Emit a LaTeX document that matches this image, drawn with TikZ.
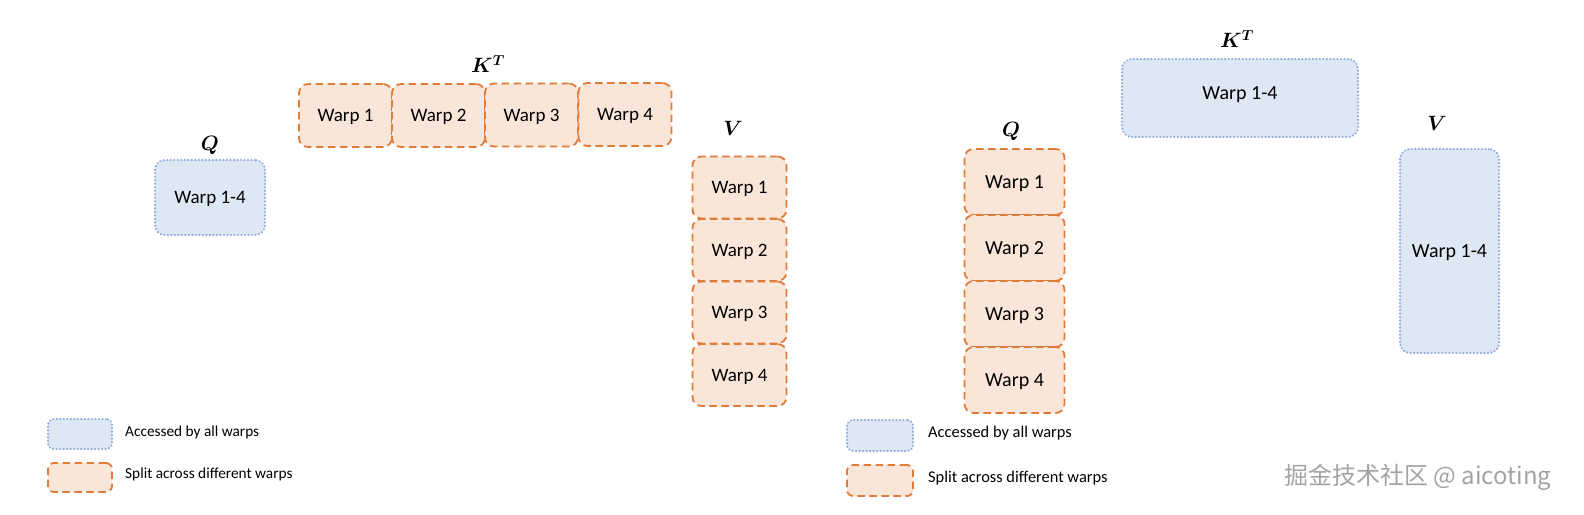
\documentclass[tikz,border=0pt]{standalone}
\usepackage{fontspec}
\usepackage{bm}
\setmainfont{Carlito}
\newfontfamily\cjkwm{Noto Sans CJK SC}
\definecolor{orline}{HTML}{E07B39}
\definecolor{orfill}{HTML}{FAE6D8}
\definecolor{blline}{HTML}{8FAADC}
\definecolor{blfill}{HTML}{DEE8F5}
\definecolor{wmgray}{HTML}{A3A3A3}
\begin{document}
\begin{tikzpicture}[x=1pt,y=-1pt,
  split/.style={draw=orline,fill=orfill,line width=1.8pt,dash pattern=on 7.5pt off 4.5pt,rounded corners=9pt,inner sep=0pt,text depth=0pt,font=\fontsize{19}{22}\selectfont},
  shared/.style={draw=blline,fill=blfill,line width=2.4pt,line cap=round,dash pattern=on 0.01pt off 3.5pt,rounded corners=10pt,inner sep=0pt,text depth=0pt,font=\fontsize{19}{22}\selectfont},
  mlabel/.style={inner sep=0pt,font=\fontsize{20}{24}\selectfont},
  legtext/.style={anchor=west,inner sep=0pt,font=\fontsize{15.3}{18}\selectfont},
  legtextb/.style={anchor=west,inner sep=0pt,font=\fontsize{16.4}{19}\selectfont}]
\useasboundingbox (0,0) rectangle (1584,514);

% ---------- left panel ----------
\node[mlabel] (lQlab) at (210,145) {$\bm{Q}$};
\node[shared,minimum width=110pt,minimum height=75pt] (lQ) at (210,197.5) {Warp 1-4};

\node[mlabel] (lKlab) at (488,64) {$\bm{K}^{\bm{T}}$};
\node[split,minimum width=93pt,minimum height=63pt] (lK1) at (345.5,115.5) {Warp 1};
\node[split,minimum width=93pt,minimum height=63pt] (lK2) at (438.5,115.5) {Warp 2};
\node[split,minimum width=93pt,minimum height=63pt] (lK3) at (531.5,115) {Warp 3};
\node[split,minimum width=93pt,minimum height=63pt] (lK4) at (625,114.5) {Warp 4};

\node[mlabel] (lVlab) at (733,128) {$\bm{V}$};
\node[split,minimum width=94pt,minimum height=62pt] (lV1) at (739.5,187.5) {Warp 1};
\node[split,minimum width=94pt,minimum height=62pt] (lV2) at (739.5,250) {Warp 2};
\node[split,minimum width=94pt,minimum height=62pt] (lV3) at (739.5,312.5) {Warp 3};
\node[split,minimum width=94pt,minimum height=62pt] (lV4) at (739.5,375) {Warp 4};

% legend left
\node[shared,minimum width=64pt,minimum height=30pt,rounded corners=6pt] (lL1) at (80,434) {};
\node[split,minimum width=64pt,minimum height=29pt,rounded corners=6pt] (lL2) at (80,477.5) {};
\node[legtext] (lT1) at (125,432) {Accessed by all warps};
\node[legtext] (lT2) at (125,474) {Split across different warps};

% ---------- right panel ----------
\node[mlabel] (rQlab) at (1011,131) {$\bm{Q}$};
\node[split,minimum width=100pt,minimum height=66pt,font=\fontsize{20}{24}\selectfont] (rQ1) at (1014.5,182) {Warp 1};
\node[split,minimum width=100pt,minimum height=66pt,font=\fontsize{20}{24}\selectfont] (rQ2) at (1014.5,248) {Warp 2};
\node[split,minimum width=100pt,minimum height=66pt,font=\fontsize{20}{24}\selectfont] (rQ3) at (1014.5,314) {Warp 3};
\node[split,minimum width=100pt,minimum height=66pt,font=\fontsize{20}{24}\selectfont] (rQ4) at (1014.5,380) {Warp 4};

\node[mlabel] (rKlab) at (1237,39) {$\bm{K}^{\bm{T}}$};
\node[shared,minimum width=236pt,minimum height=78pt,font=\fontsize{20}{24}\selectfont,text height=14pt,text depth=12pt] (rK) at (1240,98) {Warp 1-4};

\node[mlabel] (rVlab) at (1437,123) {$\bm{V}$};
\node[shared,minimum width=99pt,minimum height=204pt,font=\fontsize{20}{24}\selectfont] (rV) at (1449.5,251) {Warp 1-4};

% legend right
\node[shared,minimum width=66pt,minimum height=31pt,rounded corners=6pt] (rL1) at (880,435.5) {};
\node[split,minimum width=66pt,minimum height=31pt,rounded corners=6pt] (rL2) at (880,480.5) {};
\node[legtextb] (rT1) at (928,433) {Accessed by all warps};
\node[legtextb] (rT2) at (928,478) {Split across different warps};

% watermark
\node[anchor=west,inner sep=0pt,text=wmgray,font=\cjkwm\fontsize{24}{28}\selectfont] (wm) at (1284,477) {掘金技术社区 @ aicoting};
\end{tikzpicture}
\end{document}
